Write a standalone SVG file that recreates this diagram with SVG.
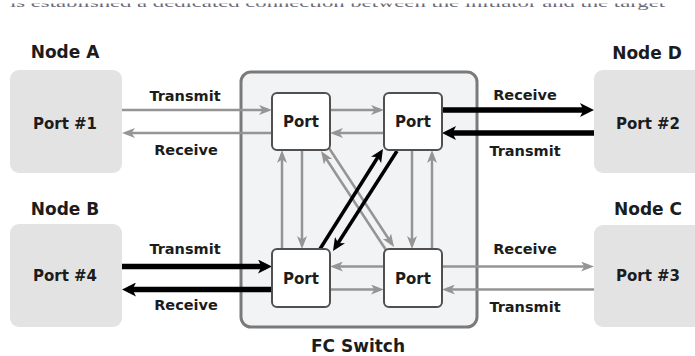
<svg xmlns="http://www.w3.org/2000/svg" width="695" height="356" viewBox="0 0 695 356">
<style>
text{font-family:"DejaVu Sans","Verdana",sans-serif;font-weight:bold;fill:#1c1c1c;text-anchor:middle}
.title{font-size:17px}
.port{font-size:15px}
.lbl{font-size:14.5px}
.nodebox{fill:#e3e3e3}
.portbox{fill:#ffffff;stroke:#505050;stroke-width:2}
.g{stroke:#959595;stroke-width:2.5;fill:none}
.k{stroke:#000;stroke-width:5.5;fill:none}
.kd{stroke:#000;stroke-width:3.5;fill:none}
.top{font-family:"Liberation Serif",serif;font-weight:normal;font-size:13px;fill:#6a6a7a;text-anchor:start}
</style>
<defs>
<marker id="arrG" markerUnits="userSpaceOnUse" markerWidth="13" markerHeight="10" refX="9" refY="5" orient="auto"><path d="M0,0 L13,5 L0,10 L3.5,5 z" fill="#959595"/></marker>
<marker id="arrK" markerUnits="userSpaceOnUse" markerWidth="14" markerHeight="14" refX="8" refY="7" orient="auto"><path d="M0,0 L14,7 L0,14 L3.5,7 z" fill="#000"/></marker>
<marker id="arrKd" markerUnits="userSpaceOnUse" markerWidth="13" markerHeight="12" refX="8" refY="6" orient="auto"><path d="M0,0 L13,6 L0,12 L3.5,6 z" fill="#000"/></marker>
<clipPath id="topclip"><rect x="0" y="3.5" width="695" height="10"/></clipPath>
</defs>

<text class="top" x="10" y="7" textLength="655" lengthAdjust="spacingAndGlyphs" clip-path="url(#topclip)">is established a dedicated connection between the initiator and the target</text>

<g id="nodeA">
<rect class="nodebox" x="10" y="70" width="112" height="103" rx="9"/>
<text class="title" x="65" y="58">Node A</text>
<text class="port" x="65" y="129">Port #1</text>
</g>
<g id="nodeB">
<rect class="nodebox" x="10" y="224" width="112" height="103" rx="9"/>
<text class="title" x="65" y="215">Node B</text>
<text class="port" x="65" y="281">Port #4</text>
</g>
<g id="nodeD">
<rect class="nodebox" x="594" y="70" width="112" height="103" rx="9"/>
<text class="title" x="647" y="59">Node D</text>
<text class="port" x="648" y="129">Port #2</text>
</g>
<g id="nodeC">
<rect class="nodebox" x="594" y="225" width="112" height="102" rx="9"/>
<text class="title" x="648" y="215">Node C</text>
<text class="port" x="648" y="281">Port #3</text>
</g>

<g id="fcSwitch">
<rect x="241" y="72" width="236" height="255" rx="10" fill="#f2f3f5" stroke="#7a7a7a" stroke-width="3"/>
<text class="title" x="358" y="352">FC Switch</text>
</g>

<g id="connectors">
<line class="g" x1="122" y1="110" x2="268" y2="110" marker-end="url(#arrG)"/>
<line class="g" x1="272" y1="133" x2="126" y2="133" marker-end="url(#arrG)"/>
<line class="g" x1="330" y1="110" x2="380" y2="110" marker-end="url(#arrG)"/>
<line class="g" x1="384" y1="133" x2="334" y2="133" marker-end="url(#arrG)"/>
<line class="g" x1="384" y1="266.5" x2="334" y2="266.5" marker-end="url(#arrG)"/>
<line class="g" x1="330" y1="289.5" x2="380" y2="289.5" marker-end="url(#arrG)"/>
<line class="g" x1="442" y1="266.5" x2="590" y2="266.5" marker-end="url(#arrG)"/>
<line class="g" x1="594" y1="289.5" x2="446" y2="289.5" marker-end="url(#arrG)"/>
<line class="g" x1="282" y1="249" x2="282" y2="154" marker-end="url(#arrG)"/>
<line class="g" x1="302" y1="150" x2="302" y2="245" marker-end="url(#arrG)"/>
<line class="g" x1="412" y1="150" x2="412" y2="245" marker-end="url(#arrG)"/>
<line class="g" x1="432" y1="249" x2="432" y2="154" marker-end="url(#arrG)"/>
<line class="g" x1="329" y1="148" x2="391.8" y2="243.7" marker-end="url(#arrG)"/>
<line class="g" x1="386" y1="250" x2="323.2" y2="154.3" marker-end="url(#arrG)"/>
<line class="kd" x1="320" y1="249" x2="380.3" y2="153.2" marker-end="url(#arrKd)"/>
<line class="kd" x1="397" y1="151" x2="335.7" y2="246.8" marker-end="url(#arrKd)"/>
<line class="k" x1="442" y1="110" x2="588" y2="110" marker-end="url(#arrK)"/>
<line class="k" x1="594" y1="133" x2="448" y2="133" marker-end="url(#arrK)"/>
<line class="k" x1="122" y1="266.5" x2="266" y2="266.5" marker-end="url(#arrK)"/>
<line class="k" x1="272" y1="289.5" x2="128" y2="289.5" marker-end="url(#arrK)"/>
</g>

<g id="labels">
<text class="lbl" x="185" y="101">Transmit</text>
<text class="lbl" x="186" y="155">Receive</text>
<text class="lbl" x="525" y="100">Receive</text>
<text class="lbl" x="525" y="156">Transmit</text>
<text class="lbl" x="185" y="254">Transmit</text>
<text class="lbl" x="186" y="310">Receive</text>
<text class="lbl" x="525" y="254">Receive</text>
<text class="lbl" x="525" y="312">Transmit</text>
</g>

<g id="portTL">
<rect class="portbox" x="272" y="93" width="58" height="57" rx="5"/>
<text class="port" x="301" y="127">Port</text>
</g>
<g id="portTR">
<rect class="portbox" x="384" y="93" width="58" height="57" rx="5"/>
<text class="port" x="413" y="127">Port</text>
</g>
<g id="portBL">
<rect class="portbox" x="272" y="249" width="58" height="58" rx="5"/>
<text class="port" x="301" y="284">Port</text>
</g>
<g id="portBR">
<rect class="portbox" x="384" y="249" width="58" height="58" rx="5"/>
<text class="port" x="413" y="284">Port</text>
</g>
</svg>
